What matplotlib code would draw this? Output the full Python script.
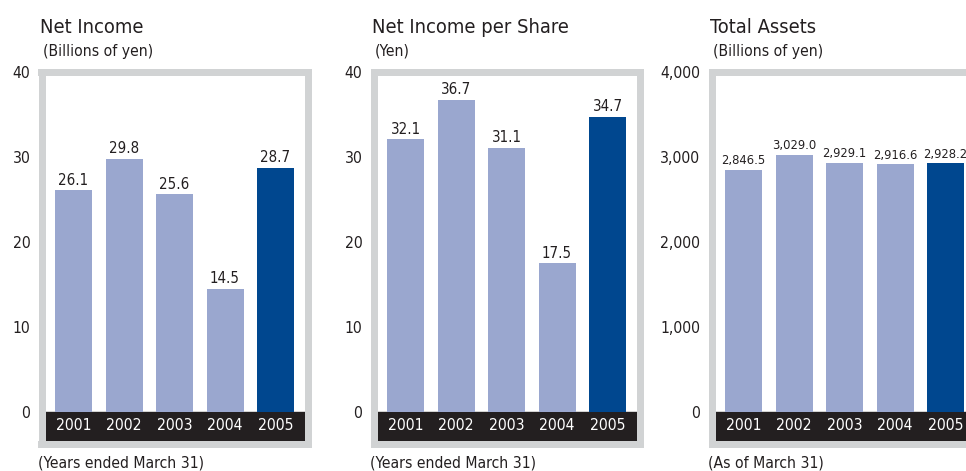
import os
import matplotlib
matplotlib.use('Agg')
import matplotlib.pyplot as plt
from matplotlib import font_manager
from matplotlib.ticker import FuncFormatter

#%% data

years = ['2001', '2002', '2003', '2004', '2005']

net_income = [26.1, 29.8, 25.6, 14.5, 28.7]
net_income_per_share = [32.1, 36.7, 31.1, 17.5, 34.7]
total_assets = [2846.5, 3029.0, 2929.1, 2916.6, 2928.2]

titles = ['Net Income', 'Net Income per Share', 'Total Assets']
units = ['(Billions of yen)', '(Yen)', '(Billions of yen)']
notes = ['(Years ended March 31)', '(Years ended March 31)', '(As of March 31)']
y_max = [40, 40, 4000]
y_step = [10, 10, 1000]

#%% font: a condensed face if one is around, else Liberation Sans a bit smaller

wanted = [('LiberationSansNarrow-Regular.ttf', 1.0),
          ('DejaVuSansCondensed.ttf', 0.9),
          ('RobotoCondensed-Regular.ttf', 0.95)]
files = {os.path.basename(f.fname): f.fname for f in font_manager.fontManager.ttflist}
scale = 0.86
plt.rcParams['font.family'] = ['Liberation Sans', 'DejaVu Sans']
for name, sc in wanted:
    if name in files:
        font_manager.fontManager.addfont(files[name])
        fam = font_manager.FontProperties(fname=files[name]).get_name()
        plt.rcParams['font.family'] = [fam, 'DejaVu Sans']
        if 'Condensed' in name:
            plt.rcParams['font.stretch'] = 'condensed'
        scale = sc
        break

light = '#9aa7cf'
dark = '#00478f'
band = '#231f20'
frame = '#d1d3d4'
txt = '#231f20'

W, H = 966, 471
fig = plt.figure(figsize=(W / 100, H / 100), dpi=100)

inner_left = [45, 377, 715]
inner_w = 259.5
fw = 7          # frame width in px
spacing = 50.5  # bar spacing in px
first_off = 28.5
y0_px, ytop_px, ybot_px = 412, 72, 443.5
band_bottom_px = 440


def draw_panel(k, values, fmt):
    left = inner_left[k] - fw / 2
    right = inner_left[k] + inner_w + fw / 2
    ax = fig.add_axes([left / W, 1 - ybot_px / H, (right - left) / W, (ybot_px - ytop_px) / H])
    ymax = y_max[k]
    per_px = ymax / (y0_px - ytop_px)
    ax.set_ylim(-(ybot_px - y0_px) * per_px, ymax)
    bar0 = inner_left[k] + first_off
    ax.set_xlim((left - bar0) / spacing, (right - bar0) / spacing)

    x = list(range(len(years)))
    cols = [light] * (len(years) - 1) + [dark]
    ax.bar(x, values, width=37 / spacing, color=cols, zorder=2)
    ax.axhspan(-(band_bottom_px - y0_px) * per_px, 0, color=band, zorder=1)

    for i, v in enumerate(values):
        ax.annotate(fmt(v), (i, v), xytext=(0, 4), textcoords='offset points',
                    ha='center', va='baseline',
                    fontsize=(12 if k < 2 else 10.3) * scale, color=txt)
        ax.text(i, -(band_bottom_px - y0_px) * per_px / 2, years[i], ha='center',
                va='center', color='white', fontsize=12.5 * scale)

    for s in ax.spines.values():
        s.set_color(frame)
        s.set_linewidth(fw * 72 / 100)
    ax.set_xticks([])
    ax.set_yticks(range(0, ymax + 1, y_step[k]))
    ax.yaxis.set_major_formatter(FuncFormatter(lambda v, p: f'{int(v):,}'))
    ax.tick_params(axis='y', length=0, pad=8, labelsize=12.5 * scale, labelcolor=txt)
    ax.set_facecolor('white')

    fig.text((inner_left[k] - 5) / W, 1 - 33 / H, titles[k], fontsize=16 * scale,
             color=txt, va='baseline', ha='left')
    fig.text((inner_left[k] - 2) / W, 1 - 56 / H, units[k], fontsize=12.5 * scale,
             color=txt, va='baseline', ha='left')
    fig.text((inner_left[k] - 7) / W, 1 - 468 / H, notes[k], fontsize=12.5 * scale,
             color=txt, va='baseline', ha='left')
    return ax


draw_panel(0, net_income, lambda v: f'{v:.1f}')
draw_panel(1, net_income_per_share, lambda v: f'{v:.1f}')
draw_panel(2, total_assets, lambda v: f'{v:,.1f}')

fig.savefig('out.png', dpi=100)
